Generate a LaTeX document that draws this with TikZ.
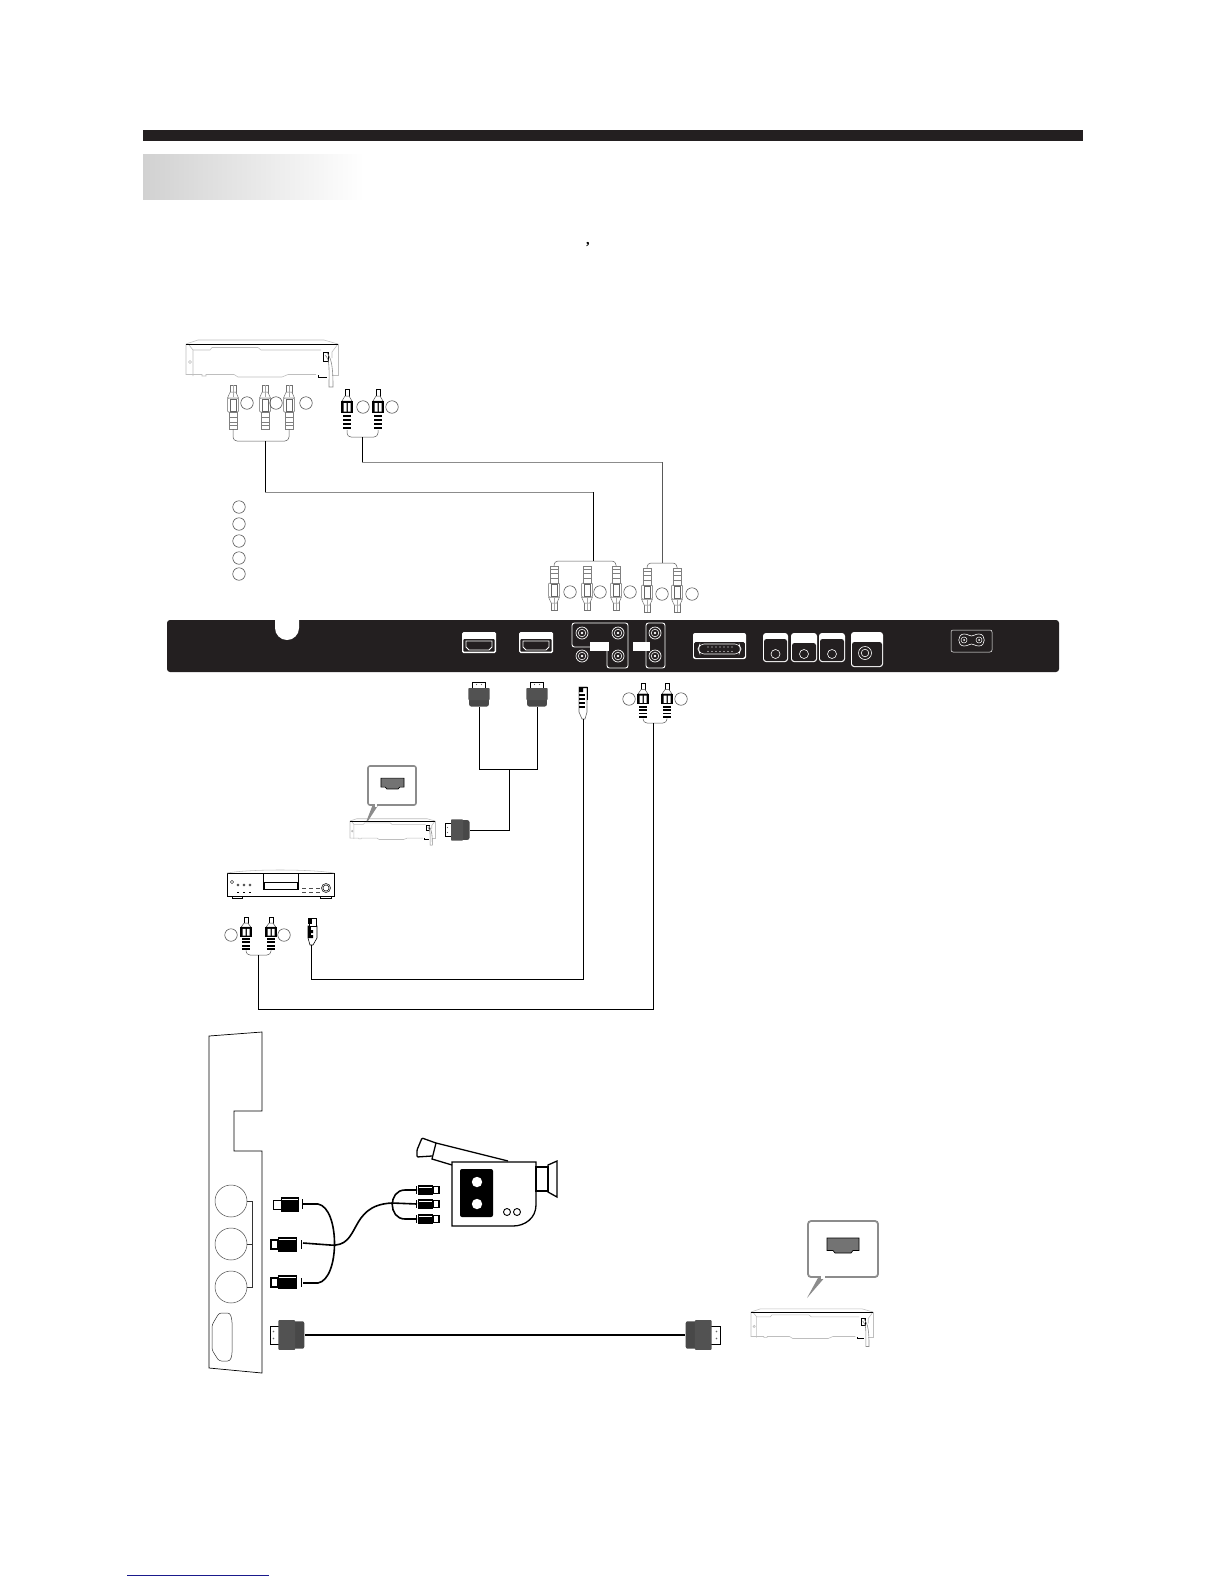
\documentclass[tikz,border=0pt]{standalone}
\usepackage{fontspec}
\setmainfont{Liberation Serif}
\usetikzlibrary{calc}
\definecolor{panelblack}{HTML}{231F20}
\definecolor{plugdark}{HTML}{484848}
\definecolor{plugmid}{HTML}{525252}
\definecolor{softgray}{HTML}{BEBEBE}
\definecolor{midgray}{HTML}{8C8C8C}
\definecolor{linkblue}{HTML}{1A1A8C}
\tikzset{
  tag/.style={circle,draw=black!75,line width=.5pt,minimum size=12.5pt,inner sep=0pt},
  stem/.style={draw=black,line width=.9pt},
  bus/.style={draw=midgray,line width=.6pt},
  bracket/.style={draw=black!65,line width=.5pt,rounded corners=4pt},
  wire/.style={draw=black,line width=.95pt},
  thickwire/.style={draw=black,line width=1.6pt},
  hair/.style={draw=softgray,line width=.55pt},
  rcaw/.pic={
    \draw[draw=black!55,line width=.5pt,fill=white] (-2.8,-20) rectangle (2.8,-12);
    \draw[draw=black!55,line width=.5pt,fill=white] (-5.5,-7)--(-2.8,-13)--(2.8,-13)--(5.5,-7)--cycle;
    \draw[draw=black!35,line width=.4pt] (0,-20)--(0,-8);
    \draw[draw=black!60,line width=.5pt,fill=white,rounded corners=1pt] (-5.5,-7) rectangle (5.5,7);
    \draw[draw=black!60,line width=.6pt] (-2.5,-6) rectangle (3,6);
    \draw[draw=black!50,line width=.5pt,fill=white] (-3.8,7) rectangle (3.8,24);
    \foreach \q in {12,17,20.5} \draw[draw=black!50,line width=.7pt] (-3.8,\q)--(3.8,\q);
    \coordinate (-end) at (0,24);
  },
  rcab/.pic={
    \draw[draw=black,line width=.5pt,fill=white] (-2,-18) rectangle (2,-10);
    \draw[draw=black!70,line width=.5pt,fill=white] (-5,-6)--(-2,-11)--(2,-11)--(5,-6)--cycle;
    \fill[black] (-6,-6) rectangle (6,6);
    \fill[white] (-3.4,-4) rectangle (-.4,4.5) (.9,-4) rectangle (3.6,4.5);
    \foreach \q in {9,13,17,21} \draw[draw=black,line width=1.9pt] (-3.8,\q)--(3.8,\q);
    \coordinate (-end) at (0,23);
  },
  hplug/.pic={
    \draw[draw=black,line width=.5pt,fill=white] (-6.5,-18) rectangle (6.5,-25);
    \fill[black!60] (-2.5,-22.5) circle (.6) (2.5,-22.5) circle (.6);
    \fill[plugdark,rounded corners=2pt] (-9.8,-9)--(-9.8,-.5)--(9.8,-.5)--(9.8,-9)--cycle;
    \fill[plugmid,rounded corners=.8pt] (-10.6,-19) rectangle (10.6,-7);
    \coordinate (-end) at (0,0);
  },
  hsocket/.pic={
    \draw[fill=black!55,draw=black,line width=.7pt] (-16,-7.5)--(16,-7.5)--(16,5)--(10,5)--(8,7.5)--(-8,7.5)--(-10,5)--(-16,5)--cycle;
  },
  gadget/.pic={
    \draw[hair] (0,0)--(12,-4)--(138,-4)--(152,0);
    \draw[hair] (0,0)--(0,30.5)--(16,30.5)--(16,32)--(20,32)--(20,30.5)--(48,30.5)--(52,33)--(96,33)--(102,30.5)--(130,30.5);
    \draw[hair] (3,1)--(7,6)--(7,32);
    \draw[hair] (7,6)--(24,6)--(26,3.5)--(72,3.5)--(75,6)--(135,6);
    \draw[hair] (152,0)--(152,31)--(146,31);
    \draw[hair] (152,0)--(146,8)--(146,14);
    \draw[hair] (4,18) circle (1.4);
    \draw[draw=black,line width=.7pt] (137,8) rectangle (142,17);
    \draw[draw=black!45,line width=.6pt] (139,11) .. controls (144,15) and (143,25) .. (143,43)--(147,43) .. controls (147,25) and (146,15) .. (141,9);
    \draw[draw=black,line width=.7pt] (132,31)--(132,33)--(141,33);
    \draw[draw=black,line width=.9pt] (0,0)--(152,0);
  },
  jackport/.pic={
    \draw[white,line width=.7pt] (0,0) circle (6);
    \draw[white,line width=.6pt] (0,0) circle (3.8);
    \fill[white] (0,0) circle (1.3);
  },
  hport/.pic={
    \fill[white,rounded corners=1.5pt] (0,0) rectangle (34,21);
    \fill[panelblack,rounded corners=1pt] (1.3,7) rectangle (32.7,19.7);
    \draw[white,line width=.8pt] (4,9)--(30,9)--(30,15)--(27,18)--(7,18)--(4,15)--cycle;
  },
}
\begin{document}
\begin{tikzpicture}[x=1pt,y=-1pt]
\useasboundingbox (0,0) rectangle (1224,1584);
\fill[white] (0,0) rectangle (1224,1584);
% header
\fill[panelblack] (143,130) rectangle (1083,141);
\shade[left color=black!18,right color=white] (143,154) rectangle (364,199);
\node[inner sep=0pt,font=\bfseries\Large] (comma) at (588,245) {,};
% device 1
\pic (dev1) at (186,344) {gadget};
% top plugs
\pic (g1a) at (233,405) {rcaw};
\pic (g1b) at (265,405) {rcaw};
\pic (g1c) at (289,405) {rcaw};
\pic (g2a) at (347,407) {rcab};
\pic (g2b) at (378,407) {rcab};
\node[tag] (t1) at (247,403) {};
\node[tag] (t2) at (276,403) {};
\node[tag] (t3) at (306,403) {};
\node[tag] (t4) at (363,407) {};
\node[tag] (t5) at (392,407) {};
\foreach \n/\yy in {l1/507,l2/524,l3/541,l4/558,l5/574} \node[tag] (\n) at (239,\yy) {};
% rear plugs, pointing down
\pic[yscale=-1] (r1) at (554,590) {rcaw};
\pic[yscale=-1] (r2) at (587,590) {rcaw};
\pic[yscale=-1] (r3) at (616,590) {rcaw};
\pic[yscale=-1] (r4) at (647,592) {rcaw};
\pic[yscale=-1] (r5) at (677,592) {rcaw};
\node[tag] (t6) at (570,592) {};
\node[tag] (t7) at (600,592) {};
\node[tag] (t8) at (630,592) {};
\node[tag] (t9) at (662,594) {};
\node[tag] (t10) at (692,594) {};
% brackets and long runs
\coordinate (b1) at (265,441);
\coordinate (b2) at (362,437);
\coordinate (b3) at (593,561);
\coordinate (b4) at (662,563);
\draw[bracket] (g1a-end) |- (b1) -| (g1c-end);
\draw[bracket] (g2a-end) |- (b2) -| (g2b-end);
\draw[bracket] (r1-end) |- (b3) -| (r3-end);
\draw[bracket] (r4-end) |- (b4) -| (r5-end);
\coordinate (c1) at (265,492);
\coordinate (c2) at (593,492);
\coordinate (c3) at (362,462);
\coordinate (c4) at (662,462);
\draw[stem] (b1) -- (c1);
\draw[bus] (c1) -- (c2);
\draw[stem] (c2) -- (b3);
\draw[stem] (b2) -- (c3);
\draw[bus] (c3) -- (c4);
\draw[stem,black!65] (c4) -- (b4);
% rear panel
\fill[panelblack,rounded corners=3pt] (167,620) rectangle (1059,672);
\fill[white] (275,619)--(275,628) arc[start angle=180,end angle=0,radius=12] --(299,619)--cycle;
\pic at (462,632) {hport};
\pic at (519,632) {hport};
\draw[white,line width=.9pt,rounded corners=2.5pt] (572,623)--(628,623)--(628,668)--(607,668)--(607,647)--(572,647)--cycle;
\draw[white,line width=.9pt,rounded corners=2.5pt] (646,623) rectangle (665,668);
\pic at (582,633) {jackport};
\pic at (618,633) {jackport};
\pic at (582,656) {jackport};
\pic at (618,656) {jackport};
\pic at (655,633) {jackport};
\pic at (655,656) {jackport};
\fill[white] (590,642) rectangle (609,651);
\fill[white] (633,642) rectangle (650,651);
% VGA
\fill[white,rounded corners=2pt] (693,633) rectangle (746,659);
\fill[panelblack,rounded corners=1.5pt] (694.2,642) rectangle (744.8,657.8);
\draw[white,line width=.6pt,rounded corners=4pt] (700,644)--(739,644)--(741,649)--(739,654)--(700,654)--(698,649)--cycle;
\foreach \vx in {708,712,716,720,724,728,732} \fill[white] (\vx,647) circle (.6) (\vx,651.5) circle (.6);
% audio boxes
\foreach \ax/\aw/\at in {763/25/639,791/26/643,819/26/639}{
  \fill[white,rounded corners=3pt] (\ax,633) rectangle (\ax+\aw,662);
  \fill[panelblack,rounded corners=2.5pt] (\ax+1,\at) rectangle (\ax+\aw-1,661);
  \draw[white,line width=.6pt] (\ax+\aw/2,654) circle (4.5);
}
\fill[white,rounded corners=3pt] (851,632) rectangle (883,667);
\fill[panelblack,rounded corners=2.5pt] (852,642) rectangle (882,666);
\draw[white,line width=.6pt] (865,653) circle (6.5) (865,653) circle (3.8);
% power
\draw[white,line width=.5pt,rounded corners=2pt] (951,630) rectangle (992,652);
\draw[white,line width=.6pt] (964,634) .. controls (957,634) and (957,646) .. (964,646) .. controls (968,646) and (969,644) .. (971.5,644) .. controls (974,644) and (975,646) .. (979,646) .. controls (986,646) and (986,634) .. (979,634) .. controls (975,634) and (974,636) .. (971.5,636) .. controls (969,636) and (968,634) .. (964,634) -- cycle;
\draw[white,line width=.5pt] (964,640) circle (3) (979,640) circle (3);
\fill[white] (964,640) circle (1) (979,640) circle (1);
% plugs below panel
\pic (h1) at (479,707) {hplug};
\pic (h2) at (537,707) {hplug};
\coordinate (s1) at (583.5,719);
\draw[draw=black!60,line width=.6pt,fill=white] (579,687)--(579,712)--(582,719)--(585,719)--(587,712)--(587,687)--cycle;
\fill[black] (579,687) rectangle (583,692) (579,687) rectangle (587,688);
\draw[draw=black,line width=.8pt] (587,687)--(587,700);
\foreach \sy in {694,698,702,706} \fill[black] (579,\sy) rectangle (585,\sy+1.6);
\pic[yscale=.85] (q1) at (643,699) {rcab};
\pic[yscale=.85] (q2) at (667,699) {rcab};
\node[tag] (t11) at (629,699) {};
\node[tag] (t12) at (681,699) {};
\coordinate (qbus) at (653,723);
\draw[bracket] (q1-end) |- (qbus) -| (q2-end);
% HDMI fork
\coordinate (hbus) at (509,769);
\draw[wire] (h1-end) |- (hbus);
\draw[wire] (h2-end) |- (hbus);
% device 2 with callout
\pic[scale=0.56] (dev2) at (350,821) {gadget};
\fill[black!45] (373,804)--(379,804)--(368,821)--(366.5,821)--cycle;
\draw[draw=black!45,line width=1.6pt,rounded corners=2pt,fill=white] (368,766) rectangle (416,805);
\fill[white] (374.5,804) rectangle (377,806.5);
\pic[scale=.72] at (392.5,783.5) {hsocket};
\pic[rotate=90] (h3) at (470,830) {hplug};
\draw[wire] (hbus) |- (h3-end);
% cd player
\node[inner sep=0pt] (cdp) at (280,884) {};
\draw[draw=black,line width=.7pt] (227,873) rectangle (334,896);
\draw[hair] (227,873) .. controls (250,869) and (310,869) .. (334,873);
\draw[draw=black,line width=.9pt,fill=white] (232,896) rectangle (242,898.5) (320,896) rectangle (331,898.5);
\draw[draw=black,line width=.8pt] (263,873) rectangle (298,889);
\draw[draw=black,line width=.7pt] (264,882) rectangle (297,889);
\draw[draw=black,line width=.4pt] (232,882) circle (1.6);
\foreach \dx in {238,244,250} {\draw[draw=black,line width=.4pt] (\dx,885) circle (1.2); \draw[draw=black,line width=.5pt] (\dx-1,892)--(\dx+1,892);}
\foreach \dx in {302,309,316} {\draw[draw=black!70,line width=.6pt] (\dx,888)--(\dx+4,888) (\dx,892)--(\dx+4,892);}
\draw[draw=black,line width=.5pt] (326,888) circle (4.5) (326,888) circle (3);
% plugs below cd player
\pic[yscale=.8] (d1) at (246,932) {rcab};
\pic[yscale=.8] (d2) at (271,932) {rcab};
\node[tag] (t13) at (231,935) {};
\node[tag] (t14) at (284,935) {};
\coordinate (dbus) at (258,955);
\draw[bracket] (d1-end) |- (dbus) -| (d2-end);
\coordinate (s2) at (311,945);
\draw[draw=black,line width=.6pt,fill=white] (308,926)--(308,938)--(310,945)--(313,945)--(317,938)--(317,926)--cycle;
\draw[draw=black,line width=.6pt,fill=white] (309,918) rectangle (316,926);
\fill[black] (308,918) rectangle (312,924);
\fill[black] (308,926) rectangle (310.5,936);
\fill[black] (308,930) rectangle (313,933) (308,935) rectangle (313,938);
% long connectors
\coordinate (e1) at (583.5,979);
\coordinate (e2) at (653,1009);
\draw[wire] (s1) -- (e1) -- (311,979) -- (s2);
\draw[wire] (qbus) -- (e2) -- (258,1009) -- (dbus);
% side panel
\draw[draw=black,line width=.7pt] (262,1373)--(209,1368)--(209,1036)--(262,1032)--(262,1111)--(234,1111)--(234,1151)--(262,1151)--cycle;
\node[circle,draw=black!70,line width=.5pt,minimum size=32pt,inner sep=0pt] (sa) at (231,1201) {};
\node[circle,draw=black!70,line width=.5pt,minimum size=32pt,inner sep=0pt] (sb) at (231,1244) {};
\node[circle,draw=black!70,line width=.5pt,minimum size=32pt,inner sep=0pt] (sc) at (231,1287) {};
\coordinate (sbar) at (252,1244);
\draw[draw=black!80,line width=.5pt] (sa.east) -- (252,1201) -- (252,1287) -- (sc.east) (sb.east) -- (sbar);
\draw[draw=black!80,line width=.5pt,rounded corners=2.5pt] (219,1313)--(230,1313)--(232,1320)--(232,1355)--(230,1361)--(219,1361)--(212,1350)--(212,1325)--cycle;
% side plugs
\draw[draw=black,line width=.9pt,fill=white] (273,1200) rectangle (281,1209);
\fill[black] (281,1197) rectangle (299,1212);
\draw[draw=white,line width=.5pt] (282,1199.5)--(298,1199.5);
\draw[draw=black,line width=.9pt] (302,1199)--(302,1209);
\draw[draw=black,line width=1.2pt,fill=white] (271,1240) rectangle (278,1249);
\fill[black] (278,1237) rectangle (297,1252);
\draw[draw=white,line width=.5pt] (279,1239.5)--(296,1239.5);
\draw[draw=black,line width=.9pt] (301,1240)--(301,1249);
\draw[draw=black,line width=1.2pt,fill=white] (271,1278) rectangle (278,1287);
\fill[black] (278,1275) rectangle (297,1289);
\draw[draw=white,line width=.5pt] (279,1277.5)--(296,1277.5);
\draw[draw=black,line width=.9pt] (301,1278)--(301,1287);
\foreach \cy in {1190,1204,1219}{
  \draw[draw=black,line width=1.1pt,fill=white] (433,\cy-3.5) rectangle (439,\cy+3.5);
  \fill[black] (418,\cy-5) rectangle (433,\cy+5);
  \draw[draw=white,line width=.5pt] (419,\cy-3)--(432,\cy-3);
  \draw[draw=black,line width=.9pt] (416,\cy-4)--(416,\cy+4);
}
\coordinate (a1) at (303,1204);
\coordinate (a2) at (303,1283);
\coordinate (a3) at (303,1243);
\coordinate (a4) at (417,1204);
\coordinate (a5) at (417,1190);
\coordinate (a6) at (417,1219);
\draw[thickwire] (a1)--(318,1204) .. controls (340,1208) and (340,1279) .. (318,1283) -- (a2);
\draw[thickwire] (a3)--(330,1245) .. controls (362,1248) and (347,1205) .. (392,1203)--(a4);
\draw[thickwire] (a5)--(405,1190) .. controls (388,1190) and (388,1219) .. (405,1219)--(a6);
% camera
\draw[draw=black,line width=1.3pt,fill=white] (452,1162)--(536,1162)--(536,1205) .. controls (536,1218) and (525,1226) .. (513,1226)--(452,1226)--cycle;
\fill[black,rounded corners=2pt] (460,1169) rectangle (493,1217);
\fill[white] (477,1182) circle (5.2) (477,1204) circle (5.2);
\draw[draw=black,line width=.9pt] (507,1212) circle (3.5) (517,1212) circle (3.5);
\draw[draw=black,line width=1.3pt] (536,1167) rectangle (548,1191);
\draw[draw=black,line width=1.3pt] (548,1165)--(557,1161)--(557,1197)--(548,1192)--cycle;
\draw[draw=black,line width=1.3pt] (508,1161)--(436,1143)--(432,1159)--(452,1165);
\draw[draw=black,line width=1.3pt,rounded corners=1pt] (436,1143)--(422,1138)--(417,1150)--(417,1157)--(432,1156);
% device 3
\pic[scale=0.803] (dev3) at (751,1312) {gadget};
\fill[black!45] (819,1276)--(826,1276)--(807,1298)--cycle;
\draw[draw=black!45,line width=1.8pt,rounded corners=3pt,fill=white] (808,1221) rectangle (878,1277);
\fill[white] (821,1275.5) rectangle (824.5,1278.5);
\pic at (843,1245.5) {hsocket};
% big HDMI cable
\pic[rotate=90,scale=1.4] (hl) at (305,1335) {hplug};
\pic[rotate=-90,scale=1.4] (hr) at (685,1335) {hplug};
\draw[thickwire] (hl-end) -- (hr-end);
% link rule
\draw[draw=linkblue,line width=.9pt] (127,1575) -- (269,1575);
\end{tikzpicture}
\end{document}
